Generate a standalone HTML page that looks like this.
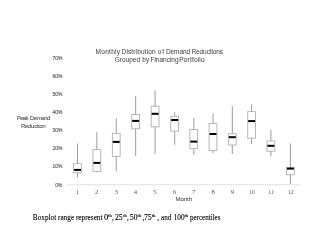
<!DOCTYPE html>
<html><head><meta charset="utf-8"><style>
html,body{margin:0;padding:0;background:#fff;width:320px;height:247px;overflow:hidden}
svg{display:block;filter:blur(0.3px)}
text{font-family:"Liberation Sans",sans-serif}
.t{font-size:6.5px;fill:#595959;stroke:#595959;stroke-width:0.1}
.yl{font-size:5.6px;fill:#595959;stroke:#595959;stroke-width:0.15;}
.xl{font-family:"Liberation Serif",serif;font-size:6.7px;fill:#595959;text-anchor:middle}
.al{font-size:6.1px;fill:#595959;stroke:#595959;stroke-width:0.1}
.ft text{font-family:"Liberation Serif",serif;font-size:7.2px;fill:#000;stroke:#000;stroke-width:0.1}
.ft .sp{font-size:4.7px;stroke-width:0.12}
.wh{stroke:#9c9c9c;stroke-width:1}
.bx{fill:#fff;stroke:#b0b0b0;stroke-width:0.9}
.md{stroke:#000;stroke-width:2}
.ax{stroke:#e0e0e0;stroke-width:1}
</style></head><body>
<svg width="320" height="247" viewBox="0 0 320 247">
<text x="95.60" y="53.7" class="t" textLength="24.38" lengthAdjust="spacing">Monthly</text>
<text x="121.58" y="53.7" class="t" textLength="34.03" lengthAdjust="spacing">Distribution</text>
<text x="157.80" y="53.7" class="t" textLength="6.2" lengthAdjust="spacing">of</text>
<text x="165.90" y="53.7" class="t" textLength="24.2" lengthAdjust="spacing">Demand</text>
<text x="191.50" y="53.7" class="t" textLength="31.60" lengthAdjust="spacing">Reductions</text>
<text x="114.80" y="62.0" class="t" textLength="25.31" lengthAdjust="spacing">Grouped</text>
<text x="142.20" y="62.0" class="t" textLength="7.0" lengthAdjust="spacing">by</text>
<text x="150.40" y="62.0" class="t" textLength="28.2" lengthAdjust="spacing">Financing</text>
<text x="179.30" y="62.0" class="t" textLength="25.30" lengthAdjust="spacing">Portfolio</text>
<text x="16.80" y="119.7" class="al" textLength="11.69" lengthAdjust="spacing">Peak</text>
<text x="29.85" y="119.7" class="al" textLength="20.65" lengthAdjust="spacing">Demand</text>
<text x="20.90" y="127.7" class="al" textLength="24.78" lengthAdjust="spacing">Reduction</text>
<text x="175.50" y="200.8" class="al" textLength="16.60" lengthAdjust="spacing">Month</text>
<text x="55.37" y="186.50" class="yl" textLength="7.03" lengthAdjust="spacingAndGlyphs">0%</text>
<text x="52.46" y="168.20" class="yl" textLength="9.94" lengthAdjust="spacingAndGlyphs">10%</text>
<text x="52.46" y="149.90" class="yl" textLength="9.94" lengthAdjust="spacingAndGlyphs">20%</text>
<text x="52.46" y="132.10" class="yl" textLength="9.94" lengthAdjust="spacingAndGlyphs">30%</text>
<text x="52.46" y="113.55" class="yl" textLength="9.94" lengthAdjust="spacingAndGlyphs">40%</text>
<text x="52.46" y="95.95" class="yl" textLength="9.94" lengthAdjust="spacingAndGlyphs">50%</text>
<text x="52.46" y="78.40" class="yl" textLength="9.94" lengthAdjust="spacingAndGlyphs">60%</text>
<text x="52.46" y="60.30" class="yl" textLength="9.94" lengthAdjust="spacingAndGlyphs">70%</text>
<line x1="67" y1="184.75" x2="300.5" y2="184.75" class="ax"/>
<line x1="77.55" y1="143.6" x2="77.55" y2="177.5" class="wh"/>
<rect x="73.64999999999999" y="163.7" width="7.8" height="9.100000000000023" class="bx"/>
<line x1="74.1" y1="169.9" x2="81.0" y2="169.9" class="md"/>
<line x1="96.85" y1="132" x2="96.85" y2="172.3" class="wh"/>
<rect x="92.94999999999999" y="149.5" width="7.8" height="22.099999999999994" class="bx"/>
<line x1="93.39999999999999" y1="162.9" x2="100.3" y2="162.9" class="md"/>
<line x1="116.25" y1="118.2" x2="116.25" y2="171" class="wh"/>
<rect x="112.35" y="133.3" width="7.8" height="23.19999999999999" class="bx"/>
<line x1="112.8" y1="141.9" x2="119.7" y2="141.9" class="md"/>
<line x1="135.65" y1="96.25" x2="135.65" y2="155.8" class="wh"/>
<rect x="131.75" y="114.5" width="7.8" height="14.25" class="bx"/>
<line x1="132.2" y1="120.9" x2="139.10000000000002" y2="120.9" class="md"/>
<line x1="155.1" y1="90.3" x2="155.1" y2="153.6" class="wh"/>
<rect x="151.2" y="106.2" width="7.8" height="20.599999999999994" class="bx"/>
<line x1="151.64999999999998" y1="113.8" x2="158.55" y2="113.8" class="md"/>
<line x1="174.65" y1="112.3" x2="174.65" y2="144.8" class="wh"/>
<rect x="170.75" y="116.2" width="7.8" height="14.999999999999986" class="bx"/>
<line x1="171.2" y1="120.0" x2="178.10000000000002" y2="120.0" class="md"/>
<line x1="193.8" y1="117.8" x2="193.8" y2="154.8" class="wh"/>
<rect x="189.9" y="129.6" width="7.8" height="19.0" class="bx"/>
<line x1="190.35" y1="141.6" x2="197.25000000000003" y2="141.6" class="md"/>
<line x1="213.0" y1="113.3" x2="213.0" y2="153.3" class="wh"/>
<rect x="209.1" y="123.4" width="7.8" height="27.19999999999999" class="bx"/>
<line x1="209.54999999999998" y1="134.0" x2="216.45000000000002" y2="134.0" class="md"/>
<line x1="232.3" y1="106.0" x2="232.3" y2="154.1" class="wh"/>
<rect x="228.4" y="133.8" width="7.8" height="11.199999999999989" class="bx"/>
<line x1="228.85" y1="137.2" x2="235.75000000000003" y2="137.2" class="md"/>
<line x1="251.6" y1="104.1" x2="251.6" y2="143.9" class="wh"/>
<rect x="247.7" y="111.6" width="7.8" height="26.5" class="bx"/>
<line x1="248.14999999999998" y1="121.1" x2="255.05" y2="121.1" class="md"/>
<line x1="270.9" y1="129.9" x2="270.9" y2="156.3" class="wh"/>
<rect x="267.0" y="140.9" width="7.8" height="10.299999999999983" class="bx"/>
<line x1="267.45" y1="145.8" x2="274.34999999999997" y2="145.8" class="md"/>
<line x1="290.4" y1="143.4" x2="290.4" y2="183.9" class="wh"/>
<rect x="286.5" y="167.6" width="7.8" height="7.200000000000017" class="bx"/>
<line x1="286.95" y1="168.6" x2="293.84999999999997" y2="168.6" class="md"/>
<text x="77.30" y="194.4" class="xl">1</text>
<text x="96.70" y="194.4" class="xl">2</text>
<text x="116.10" y="194.4" class="xl">3</text>
<text x="135.50" y="194.4" class="xl">4</text>
<text x="154.90" y="194.4" class="xl">5</text>
<text x="174.30" y="194.4" class="xl">6</text>
<text x="193.70" y="194.4" class="xl">7</text>
<text x="213.10" y="194.4" class="xl">8</text>
<text x="232.50" y="194.4" class="xl">9</text>
<text x="251.90" y="194.4" class="xl" textLength="5.9" lengthAdjust="spacingAndGlyphs">10</text>
<text x="271.30" y="194.4" class="xl" textLength="5.9" lengthAdjust="spacingAndGlyphs">11</text>
<text x="290.70" y="194.4" class="xl" textLength="5.9" lengthAdjust="spacingAndGlyphs">12</text>
<g class="ft">
<text x="32.80" y="219.5" textLength="69.70" lengthAdjust="spacingAndGlyphs">Boxplot range represent</text>
<text x="104.00" y="219.5" textLength="4.30" lengthAdjust="spacingAndGlyphs">0</text>
<text x="108.10" y="216.6" class="sp">th</text>
<text x="111.90" y="219.5">,</text>
<text x="115.00" y="219.5" textLength="7.70" lengthAdjust="spacingAndGlyphs">25</text>
<text x="123.20" y="216.6" class="sp">th</text>
<text x="127.10" y="219.5">,</text>
<text x="130.00" y="219.5" textLength="7.50" lengthAdjust="spacingAndGlyphs">50</text>
<text x="137.60" y="216.6" class="sp">th</text>
<text x="142.70" y="219.5">,</text>
<text x="143.90" y="219.5" textLength="7.90" lengthAdjust="spacingAndGlyphs">75</text>
<text x="151.80" y="216.6" class="sp">th</text>
<text x="157.30" y="219.5">,</text>
<text x="161.00" y="219.5" textLength="10.20" lengthAdjust="spacingAndGlyphs">and</text>
<text x="173.70" y="219.5" textLength="10.90" lengthAdjust="spacingAndGlyphs">100</text>
<text x="184.50" y="216.6" class="sp">th</text>
<text x="189.90" y="219.5" textLength="30.50" lengthAdjust="spacingAndGlyphs">percentiles</text>
</g>
</svg>
</body></html>
